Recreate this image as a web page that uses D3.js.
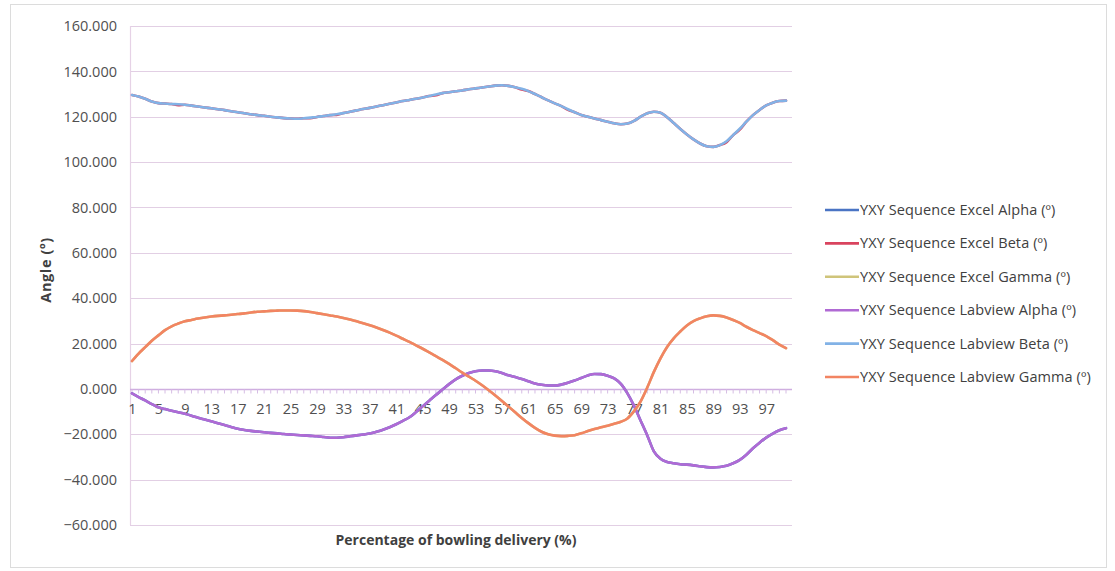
<!DOCTYPE html>
<html>
<head>
<meta charset="utf-8">
<script src="https://cdn.jsdelivr.net/npm/d3@7"></script>
<style>
  html, body { margin: 0; padding: 0; background: #fff; }
  svg { display: block; }
  text { font-family: "Open Sans", "Liberation Sans", sans-serif; }
</style>
</head>
<body>
<svg id="chart" width="1115" height="571"></svg>
<script>
// Percentage of bowling delivery, 1..100
const categories = d3.range(1, 101);

// Y axis tick values
const yTicks = [-60, -40, -20, 0, 20, 40, 60, 80, 100, 120, 140, 160];

// Labview Beta (º)
const labviewBeta = [
  129.6, 128.9, 127.9, 126.7, 126.0, 125.8, 125.6, 125.5, 125.3, 124.9,
  124.5, 124.1, 123.7, 123.3, 122.9, 122.4, 122.0, 121.5, 121.1, 120.7,
  120.4, 120.0, 119.7, 119.4, 119.2, 119.1, 119.3, 119.6, 119.9, 120.3,
  120.7, 121.1, 121.6, 122.2, 122.8, 123.4, 123.9, 124.5, 125.1, 125.7,
  126.3, 126.9, 127.4, 127.9, 128.5, 129.1, 129.8, 130.4, 130.8, 131.2,
  131.6, 132.1, 132.5, 132.9, 133.3, 133.7, 133.9, 133.6, 133.0, 132.3,
  131.3, 130.0, 128.6, 127.2, 125.9, 124.7, 123.3, 122.0, 120.8, 120.0,
  119.2, 118.5, 117.8, 117.1, 116.7, 117.0, 118.2, 120.0, 121.5, 122.2,
  121.8, 119.8, 117.2, 114.6, 112.2, 110.0, 108.2, 107.0, 106.7, 107.5,
  109.2, 111.9, 114.7, 117.8, 120.7, 123.0, 125.0, 126.2, 126.9, 127.1
];

// Excel Beta (º)
const excelBeta = [
  129.6, 128.9, 127.9, 126.7, 126.0, 125.8, 125.6, 125.1, 125.3, 124.9,
  124.5, 124.1, 123.7, 123.3, 122.9, 122.4, 122.0, 121.5, 121.1, 120.7,
  120.4, 120.0, 119.7, 119.4, 119.2, 119.1, 119.3, 119.3, 119.9, 120.3,
  120.7, 120.8, 121.6, 122.2, 122.8, 123.4, 123.9, 124.5, 125.1, 125.7,
  126.3, 126.9, 127.4, 127.9, 128.5, 129.1, 129.5, 130.4, 130.8, 131.2,
  131.6, 132.1, 132.5, 132.9, 133.3, 133.7, 133.9, 133.6, 133.0, 132.0,
  131.3, 130.0, 128.6, 127.2, 125.9, 124.7, 123.0, 122.0, 120.8, 120.0,
  119.2, 118.5, 117.8, 117.1, 116.7, 117.0, 118.2, 120.0, 121.5, 122.2,
  121.8, 119.8, 117.2, 114.6, 112.2, 110.0, 108.2, 107.0, 106.7, 107.5,
  108.8, 111.9, 114.3, 117.8, 120.7, 123.0, 125.0, 126.2, 126.9, 127.1
];

// Labview Gamma (º)
const labviewGamma = [
  12.3, 15.6, 18.4, 21.2, 23.6, 25.9, 27.6, 28.8, 29.8, 30.4,
  31.0, 31.5, 31.9, 32.2, 32.4, 32.7, 33.0, 33.3, 33.7, 34.0,
  34.2, 34.4, 34.5, 34.6, 34.6, 34.5, 34.3, 33.9, 33.4, 32.9,
  32.4, 31.9, 31.3, 30.6, 29.8, 29.0, 28.1, 27.1, 26.0, 24.8,
  23.5, 22.1, 20.7, 19.2, 17.7, 16.1, 14.5, 12.8, 11.0, 9.1,
  7.2, 5.4, 3.6, 1.6, -0.6, -2.9, -5.3, -7.8, -10.3, -12.8,
  -15.1, -17.2, -18.9, -20.0, -20.6, -20.8, -20.7, -20.4, -19.6, -18.6,
  -17.7, -16.9, -16.2, -15.4, -14.5, -13.0, -9.8, -5.5, 0.6, 7.5,
  13.5, 18.5, 22.3, 25.3, 28.0, 29.9, 31.1, 32.0, 32.4, 32.2,
  31.5, 30.4, 29.1, 27.4, 25.9, 24.6, 23.3, 21.5, 19.5, 18.0
];

// Excel Gamma (º) – coincides with the Labview values
const excelGamma = labviewGamma.slice();

// Labview Alpha (º)
const labviewAlpha = [
  -2.0, -3.6, -5.1, -6.7, -8.1, -8.9, -9.6, -10.3, -11.0, -11.8,
  -12.7, -13.5, -14.3, -15.1, -15.9, -16.8, -17.6, -18.1, -18.5, -18.8,
  -19.1, -19.4, -19.6, -19.9, -20.1, -20.3, -20.5, -20.7, -20.9, -21.2,
  -21.5, -21.5, -21.3, -20.9, -20.5, -20.1, -19.7, -18.9, -18.0, -16.9,
  -15.6, -14.1, -12.5, -10.2, -7.7, -5.2, -2.7, -0.3, 2.1, 4.2,
  5.8, 7.0, 7.8, 8.1, 8.1, 7.8, 7.0, 6.0, 5.2, 4.4,
  3.4, 2.4, 1.8, 1.5, 1.5, 1.9, 2.7, 3.7, 4.8, 5.9,
  6.6, 6.5, 5.8, 4.6, 2.2, -2.0, -7.5, -14.0, -20.5, -27.5,
  -30.8, -32.2, -32.8, -33.2, -33.4, -33.7, -34.1, -34.5, -34.6, -34.4,
  -33.9, -32.8, -31.3, -29.0, -26.2, -23.7, -21.5, -19.7, -18.2, -17.3
];

// Excel Alpha (º) – coincides with the Labview values
const excelAlpha = labviewAlpha.slice();

const seriesNames = [
  "YXY Sequence Excel Alpha (º)",
  "YXY Sequence Excel Beta (º)",
  "YXY Sequence Excel Gamma (º)",
  "YXY Sequence Labview Alpha (º)",
  "YXY Sequence Labview Beta (º)",
  "YXY Sequence Labview Gamma (º)"
];
const seriesColors = ["#4a74c4", "#d9435e", "#cfc47a", "#b06ad4", "#82b2e6", "#f28462"];
const seriesValues = [excelAlpha, excelBeta, excelGamma, labviewAlpha, labviewBeta, labviewGamma];

const svg = d3.select("#chart");

// outer chart frame
svg.append("rect")
  .attr("x", 10.5).attr("y", 4.5)
  .attr("width", 1096).attr("height", 563)
  .attr("fill", "#fff").attr("stroke", "#dcdcdc").attr("stroke-width", 1);

const plot = { left: 130, right: 792, top: 26, bottom: 525 };

const x = d3.scalePoint().domain(categories).range([132, 786]);
const y = d3.scaleLinear().domain([-60, 160]).range([plot.bottom, plot.top]);

// horizontal gridlines
svg.append("g")
  .selectAll("line")
  .data(yTicks.filter(d => d !== 0))
  .join("line")
  .attr("x1", plot.left).attr("x2", plot.right)
  .attr("y1", d => Math.round(y(d)) + 0.5).attr("y2", d => Math.round(y(d)) + 0.5)
  .attr("stroke", "#e2cfe4").attr("stroke-width", 1.2);

// vertical axis line
svg.append("line")
  .attr("x1", plot.left + 0.5).attr("x2", plot.left + 0.5)
  .attr("y1", plot.top).attr("y2", plot.bottom)
  .attr("stroke", "#e6d2e6").attr("stroke-width", 1.2);

// y tick labels
const yAxis = d3.axisLeft(y).tickValues(yTicks).tickFormat(d3.format(".3f")).tickSize(0).tickPadding(13);
const gy = svg.append("g").attr("transform", `translate(${plot.left},0)`).call(yAxis);
gy.select(".domain").remove();
gy.selectAll("text")
  .attr("font-size", 14.5)
  .attr("fill", "#505050")
  .style("font-family", "'Open Sans', sans-serif");

// horizontal category axis at zero
const zeroY = Math.round(y(0)) + 0.5;
svg.append("line")
  .attr("x1", plot.left).attr("x2", plot.right)
  .attr("y1", zeroY).attr("y2", zeroY)
  .attr("stroke", "#cfaee0").attr("stroke-width", 1.3);
svg.append("g")
  .selectAll("line")
  .data(categories)
  .join("line")
  .attr("x1", d => x(d)).attr("x2", d => x(d))
  .attr("y1", zeroY).attr("y2", zeroY + 4)
  .attr("stroke", "#d6bde4").attr("stroke-width", 1);

const xAxis = d3.axisBottom(x)
  .tickValues(categories.filter(d => (d - 1) % 4 === 0))
  .tickSize(0).tickPadding(14);
const gx = svg.append("g").attr("transform", `translate(0,${zeroY})`).call(xAxis);
gx.select(".domain").remove();
gx.selectAll("text")
  .attr("font-size", 14.5)
  .attr("fill", "#505050")
  .style("font-family", "'Open Sans', sans-serif");

// series lines
const line = d3.line()
  .x((d, i) => x(categories[i]))
  .y(d => y(d))
  .curve(d3.curveMonotoneX);

svg.append("g")
  .selectAll("path")
  .data(seriesValues)
  .join("path")
  .attr("d", d => line(d))
  .attr("fill", "none")
  .attr("stroke", (d, i) => seriesColors[i])
  .attr("stroke-width", 2.6)
  .attr("stroke-linejoin", "round")
  .attr("stroke-linecap", "round");

// axis titles
svg.append("text")
  .attr("transform", `translate(51,270) rotate(-90)`)
  .attr("text-anchor", "middle")
  .attr("font-size", 14.5)
  .attr("font-weight", "bold")
  .attr("letter-spacing", 0.6)
  .attr("fill", "#404040")
  .text("Angle (º)");

svg.append("text")
  .attr("x", 456).attr("y", 545)
  .attr("text-anchor", "middle")
  .attr("font-size", 14)
  .attr("font-weight", "bold")
  .attr("fill", "#404040")
  .text("Percentage of bowling delivery (%)");

// legend
const legend = svg.append("g");
const rows = legend.selectAll("g")
  .data(seriesNames)
  .join("g")
  .attr("transform", (d, i) => `translate(825,${210 + i * 33.4})`);
rows.append("line")
  .attr("x1", 0).attr("x2", 34).attr("y1", 0).attr("y2", 0)
  .attr("stroke", (d, i) => seriesColors[i]).attr("stroke-width", 2.6);
rows.append("text")
  .attr("x", 35).attr("y", 0).attr("dy", "0.35em")
  .attr("font-size", 14.5)
  .attr("letter-spacing", 0.1)
  .attr("fill", "#404040")
  .text(d => d);
</script>
</body>
</html>
